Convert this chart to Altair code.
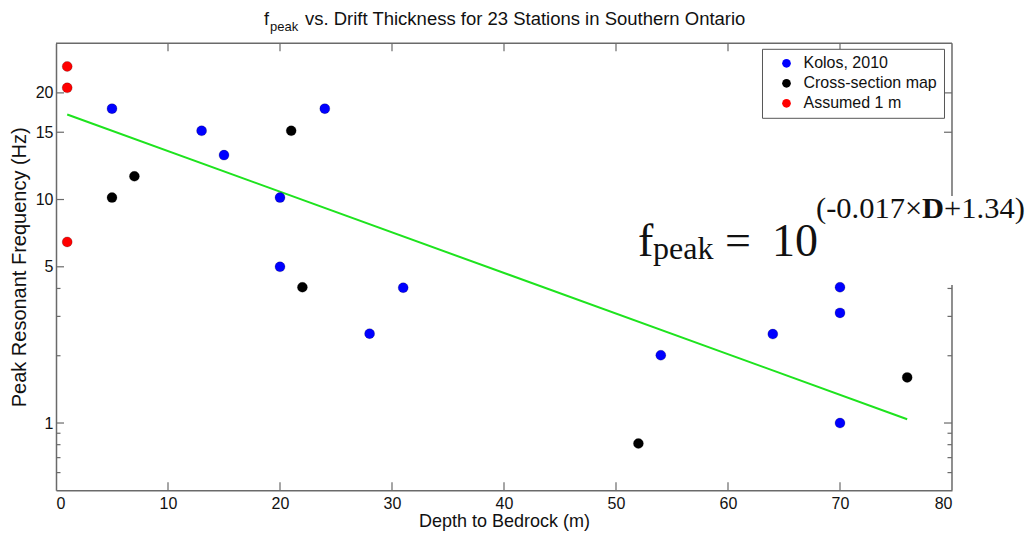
import altair as alt
import pandas as pd

# ---- data (y values in plotted log-scale units) ----
kolos_depth = [5, 13, 15, 20, 24, 20, 31, 28, 54, 64, 70, 70, 70]
kolos_freq = [25.5, 20.3, 15.8, 10.2, 25.5, 5.0, 4.03, 2.51, 2.01, 2.5, 4.05, 3.11, 1.0]
xsec_depth = [5, 7, 21, 22, 52, 76]
xsec_freq = [10.2, 12.7, 20.3, 4.05, 0.81, 1.6]
assumed_depth = [1, 1, 1]
assumed_freq = [39.4, 31.6, 6.46]
fit_depth = [1, 76]
fit_freq = [24.0, 1.04]

series_names = ["Kolos, 2010", "Cross-section map", "Assumed 1 m"]
series_colors = ["#0000ff", "#000000", "#ff0000"]

x_tick_values = [0, 10, 20, 30, 40, 50, 60, 70, 80]
x_inner_ticks = [10, 20, 30, 40, 50, 60, 70]
y_tick_values = [1, 5, 10, 20, 30]
y_tick_labels = ["1", "5", "10", "15", "20"]
y_minor_ticks = [0.6, 0.7, 0.8, 0.9, 2, 3, 4]

W, H = 896, 447
SANS = "Liberation Sans"
SERIF = "Liberation Serif"
AXIS_COLOR = "#6a6a6a"

points = pd.DataFrame({
    "depth": kolos_depth + xsec_depth + assumed_depth,
    "freq": kolos_freq + xsec_freq + assumed_freq,
    "series": [series_names[0]] * len(kolos_depth)
    + [series_names[1]] * len(xsec_depth)
    + [series_names[2]] * len(assumed_depth),
})
fit = pd.DataFrame({"depth": fit_depth, "freq": fit_freq})
xt = pd.DataFrame({"depth": x_inner_ticks})
yt_major = pd.DataFrame({"freq": y_tick_values})
yt_minor = pd.DataFrame({"freq": y_minor_ticks})
one = pd.DataFrame({"k": [0]})

label_expr = " : ".join(
    f"datum.value == {v} ? '{l}'" for v, l in zip(y_tick_values, y_tick_labels)
) + " : ''"

X = alt.X(
    "depth:Q",
    scale=alt.Scale(domain=[0, 80], nice=False, zero=False),
    axis=alt.Axis(
        values=x_tick_values, title="Depth to Bedrock (m)", ticks=False,
        labelPadding=5, titlePadding=1, grid=False,
    ),
)
Y = alt.Y(
    "freq:Q",
    scale=alt.Scale(type="log", domain=[0.5, 50], nice=False),
    axis=alt.Axis(
        values=y_tick_values, labelExpr=label_expr, title="Peak Resonant Frequency (Hz)",
        ticks=False, labelPadding=3, titlePadding=6, grid=False, titleFontSize=20,
    ),
)

# frame (top and right) and inward ticks
frame_top = alt.Chart(one).mark_rule(color=AXIS_COLOR, strokeWidth=1.5).encode(
    x=alt.value(0), x2=alt.value(W), y=alt.value(0))
frame_right = alt.Chart(one).mark_rule(color=AXIS_COLOR, strokeWidth=1.5).encode(
    x=alt.value(W), y=alt.value(0), y2=alt.value(H))
tick_bottom = alt.Chart(xt).mark_rule(color=AXIS_COLOR, strokeWidth=1.2).encode(
    x=X, y=alt.value(H), y2=alt.value(H - 8))
tick_top = alt.Chart(xt).mark_rule(color=AXIS_COLOR, strokeWidth=1.2).encode(
    x=X, y=alt.value(0), y2=alt.value(8))
tick_left_major = alt.Chart(yt_major).mark_rule(color=AXIS_COLOR, strokeWidth=1.2).encode(
    y=Y, x=alt.value(0), x2=alt.value(8))
tick_right_major = alt.Chart(yt_major).mark_rule(color=AXIS_COLOR, strokeWidth=1.2).encode(
    y=Y, x=alt.value(W), x2=alt.value(W - 8))
tick_left_minor = alt.Chart(yt_minor).mark_rule(color=AXIS_COLOR, strokeWidth=1.2).encode(
    y=Y, x=alt.value(0), x2=alt.value(4.5))
tick_right_minor = alt.Chart(yt_minor).mark_rule(color=AXIS_COLOR, strokeWidth=1.2).encode(
    y=Y, x=alt.value(W), x2=alt.value(W - 4.5))

# white box behind the equation (it hides the right frame there)
eq_box = alt.Chart(one).mark_rect(color="white").encode(
    x=alt.value(576), x2=alt.value(975), y=alt.value(152.7), y2=alt.value(241.7))

fit_line = alt.Chart(fit).mark_line(color="#1ee31e", strokeWidth=2).encode(x=X, y=Y)

pts = alt.Chart(points).mark_circle(size=100, opacity=1, stroke="#000000",
                                    strokeWidth=0.6, strokeOpacity=0.35).encode(
    x=X, y=Y,
    color=alt.Color(
        "series:N",
        scale=alt.Scale(domain=series_names, range=series_colors),
        legend=alt.Legend(
            title=None, orient="none", legendX=706, legendY=5.5,
            padding=6.5, rowPadding=4, symbolSize=75, symbolType="circle",
            symbolOffset=10, labelOffset=9, labelFontSize=16, labelFont=SANS,
            labelColor="#111", strokeColor="#555", fillColor="white",
            cornerRadius=0, symbolStrokeWidth=0,
        ),
    ),
)


def txt(s, x, y, size, font=SANS, weight="normal"):
    return alt.Chart(one).mark_text(
        text=s, align="left", baseline="alphabetic", font=font,
        fontSize=size, fontWeight=weight, color="#111",
    ).encode(x=alt.value(x), y=alt.value(y))


# title with subscript
title_parts = [
    txt("f", 208, -18.3, 18),
    txt("peak", 214, -11.8, 13),
    txt("vs. Drift Thickness for 23 Stations in Southern Ontario", 249, -18.3, 18.5),
]

# equation
eq_parts = [
    txt("f", 582, 212.7, 46, SERIF),
    txt("peak", 597, 215.5, 32, SERIF),
    txt("=", 669, 212.7, 46, SERIF),
    txt("10", 716, 212.7, 46, SERIF),
    txt("(-0.017\u00d7", 760, 174.7, 30.5, SERIF),
    txt("D", 866.1, 174.7, 30.5, SERIF, "bold"),
    txt("+1.34)", 888.1, 174.7, 30.5, SERIF),
]

chart = alt.layer(
    frame_top, frame_right,
    tick_bottom, tick_top, tick_left_major, tick_right_major,
    tick_left_minor, tick_right_minor,
    eq_box, fit_line, pts, *title_parts, *eq_parts,
).properties(
    width=W, height=H,
    padding={"left": 48, "top": 35.3, "right": 73, "bottom": 44},
    autosize=alt.AutoSizeParams(type="none"),
    background="white",
).configure_view(stroke=None).configure_axis(
    domainColor=AXIS_COLOR, domainWidth=1.5,
    labelFont=SANS, labelFontSize=16, labelColor="#111",
    titleFont=SANS, titleFontSize=18, titleFontWeight="normal", titleColor="#111",
)

chart.save("out.html", embed_options={"renderer": "svg", "actions": False})
